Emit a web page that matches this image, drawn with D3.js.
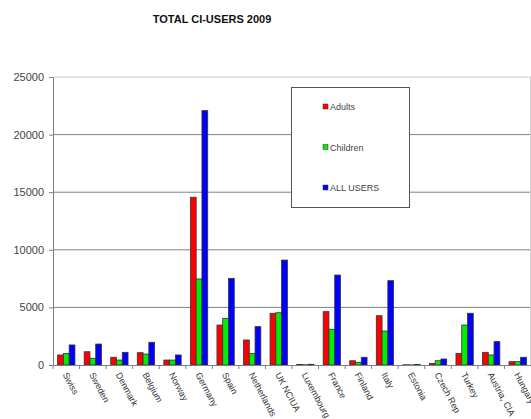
<!DOCTYPE html>
<html lang="en">
<head>
  <meta charset="UTF-8">
  <title>TOTAL CI-USERS 2009</title>
  <script src="https://d3js.org/d3.v7.min.js"></script>
  <style>
    body { margin: 0; background: #fff; }
    text { font-family: "Liberation Sans", Arial, sans-serif; }
  </style>
</head>
<body>
<div id="chart"></div>
<script>
  // Chart data
  const countries = ["Swiss", "Sweden", "Denmark", "Belgium", "Norway", "Germany", "Spain",
    "Netherlands", "UK NCIUA", "Luxembourg", "France", "Finland", "Italy", "Estonia",
    "Czech Rep", "Turkey", "Austria, CIA", "Hungary"];
  const adults   = [870, 1150, 670, 1070, 430, 14560, 3470, 2170, 4490, 40, 4630, 370, 4280, 20, 140, 1010, 1100, 290];
  const children = [1000, 580, 430, 950, 430, 7470, 4050, 1010, 4540, 20, 3100, 230, 2950, 10, 370, 3470, 870, 290];
  const allUsers = [1740, 1820, 1100, 1970, 870, 22080, 7520, 3330, 9110, 60, 7810, 670, 7320, 40, 520, 4490, 2030, 670];
  const seriesNames = ["Adults", "Children", "ALL USERS"];
  const seriesColors = ["#ff0000", "#00ee00", "#0000ff"];
  const yTicks = [0, 5000, 10000, 15000, 20000, 25000];

  const W = 531, H = 419;
  const plotLeft = 53, plotRight = 531, plotTop = 77, plotBottom = 365;

  const svg = d3.select('#chart').append('svg')
    .attr('width', W).attr('height', H);

  const series = [adults, children, allUsers];

  const x = d3.scaleBand().domain(countries).range([plotLeft, plotRight]).paddingInner(0).paddingOuter(0);
  const xSub = d3.scaleBand().domain(seriesNames).range([0, x.bandwidth()]).paddingOuter(0.8).paddingInner(0);
  const y = d3.scaleLinear().domain([0, 25000]).range([plotBottom, plotTop]);

  // title
  svg.append('text')
    .attr('x', 212).attr('y', 23)
    .attr('text-anchor', 'middle')
    .attr('font-size', 11).attr('font-weight', 'bold')
    .attr('fill', '#111')
    .text('TOTAL CI-USERS 2009');

  // grid lines
  svg.append('g').selectAll('line')
    .data(yTicks.filter(d => d > 0))
    .join('line')
    .attr('x1', plotLeft).attr('x2', plotRight)
    .attr('y1', d => y(d)).attr('y2', d => y(d))
    .attr('stroke', d => d === 25000 ? '#c8c8c8' : '#808080')
    .attr('stroke-width', 1);

  // right border
  svg.append('line')
    .attr('x1', plotRight - 0.5).attr('x2', plotRight - 0.5)
    .attr('y1', plotTop).attr('y2', plotBottom)
    .attr('stroke', '#d0d0d0');

  // bars
  const groups = svg.append('g').selectAll('g')
    .data(countries)
    .join('g')
    .attr('transform', d => `translate(${x(d)},0)`);

  groups.selectAll('rect')
    .data((c, i) => series.map((s, k) => ({ name: seriesNames[k], value: s[i], color: seriesColors[k] })))
    .join('rect')
    .attr('x', d => xSub(d.name))
    .attr('width', xSub.bandwidth())
    .attr('y', d => y(d.value))
    .attr('height', d => y(0) - y(d.value))
    .attr('fill', d => d.color)
    .attr('stroke', '#333')
    .attr('stroke-width', 0.8);

  // y axis
  const yAxis = d3.axisLeft(y).tickValues(yTicks).tickSize(4).tickPadding(5).tickFormat(d3.format('d'));
  const gy = svg.append('g').attr('transform', `translate(${plotLeft},0)`).call(yAxis);
  gy.select('.domain').attr('stroke', '#808080');
  gy.selectAll('.tick line').attr('stroke', '#808080');
  gy.selectAll('.tick text').attr('font-size', 11).attr('fill', '#444')
    .style('font-family', '"Liberation Sans", Arial, sans-serif');

  // x axis
  const xAxis = d3.axisBottom(x).tickSize(0).tickPadding(0);
  const gx = svg.append('g').attr('transform', `translate(0,${plotBottom})`).call(xAxis);
  gx.select('.domain').attr('stroke', '#808080');
  gx.selectAll('.tick text')
    .attr('font-size', 9).attr('fill', '#333')
    .style('font-family', '"Liberation Sans", Arial, sans-serif')
    .attr('text-anchor', 'start')
    .attr('dy', '0.35em')
    .attr('transform', 'translate(-1,8) rotate(62)');
  // category separator ticks
  gx.selectAll('.sep')
    .data(countries)
    .join('line')
    .attr('class', 'sep')
    .attr('x1', d => x(d)).attr('x2', d => x(d))
    .attr('y1', 0).attr('y2', 4)
    .attr('stroke', '#808080');

  // legend
  const lg = svg.append('g');
  lg.append('rect')
    .attr('x', 291.5).attr('y', 87.5).attr('width', 118).attr('height', 120)
    .attr('fill', '#fff').attr('stroke', '#555');
  const items = lg.selectAll('g.item')
    .data(seriesNames)
    .join('g')
    .attr('class', 'item')
    .attr('transform', (d, i) => `translate(323,${107 + i * 40.5})`);
  items.append('rect')
    .attr('x', 0).attr('y', -3).attr('width', 5).attr('height', 5)
    .attr('fill', (d, i) => seriesColors[i]).attr('stroke', '#333').attr('stroke-width', 0.5);
  items.append('text')
    .attr('x', 7).attr('y', 0).attr('dy', '0.35em')
    .attr('font-size', 9).attr('fill', '#444')
    .text(d => d);
</script>
</body>
</html>
